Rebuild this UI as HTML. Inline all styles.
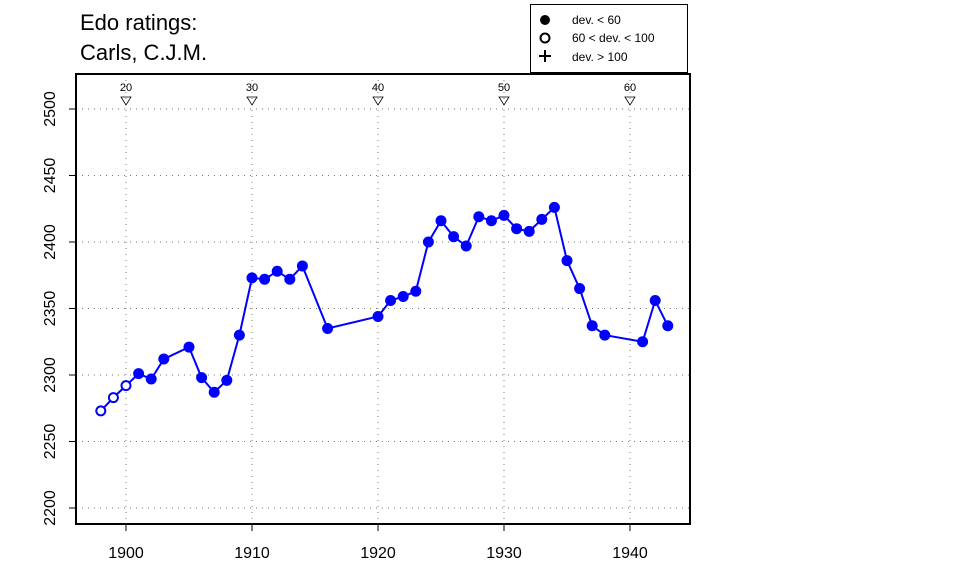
<!DOCTYPE html>
<html><head><meta charset="utf-8"><style>
body{margin:0;background:#fff;}
text{font-family:"Liberation Sans",sans-serif;}
</style></head><body>
<svg width="960" height="576" id="svg">
<text x="80" y="30" font-size="22">Edo ratings:</text>
<text x="80" y="60" font-size="22">Carls, C.J.M.</text>
<g>
<rect x="530.5" y="4.5" width="157" height="68" fill="none" stroke="#000"/>
<circle cx="545" cy="20" r="5" fill="#000"/>
<text x="572" y="24" font-size="12">dev. &lt; 60</text>
<circle cx="545" cy="38" r="4.5" fill="none" stroke="#000" stroke-width="2"/>
<text x="572" y="42" font-size="12">60 &lt; dev. &lt; 100</text>
<path d="M539 56h12M545 50v12" stroke="#000" stroke-width="2"/>
<text x="572" y="61" font-size="12">dev. &gt; 100</text>
</g>
<g id="grid"></g>
<g id="axes"></g>
<g id="series"></g>
<rect x="76" y="74" width="614" height="450" fill="none" stroke="#000" stroke-width="2"/>
</svg>
<script>
const years=[1898,1899,1900,1901,1902,1903,1905,1906,1907,1908,1909,1910,1911,1912,1913,1914,1916,1920,1921,1922,1923,1924,1925,1926,1927,1928,1929,1930,1931,1932,1933,1934,1935,1936,1937,1938,1941,1942,1943];
const ratings=[2273,2283,2292,2301,2297,2312,2321,2298,2287,2296,2330,2373,2372,2378,2372,2382,2335,2344,2356,2359,2363,2400,2416,2404,2397,2419,2416,2420,2410,2408,2417,2426,2386,2365,2337,2330,2325,2356,2337];
const openPts=[1,1,1,0,0,0,0,0,0,0,0,0,0,0,0,0,0,0,0,0,0,0,0,0,0,0,0,0,0,0,0,0,0,0,0,0,0,0,0];
const xTicks=[1900,1910,1920,1930,1940];
const yTicks=[2200,2250,2300,2350,2400,2450,2500];
const ageLabels=[20,30,40,50,60];
const X=v=>126+(v-1900)*12.6;
const Y=v=>375-(v-2300)*1.33;
const NS="http://www.w3.org/2000/svg";
function mk(t,a,p){const e=document.createElementNS(NS,t);for(const k in a)e.setAttribute(k,a[k]);p.appendChild(e);return e;}
const grid=document.getElementById('grid'),axes=document.getElementById('axes'),ser=document.getElementById('series');
xTicks.forEach((t,i)=>{
 const l=mk('line',{x1:X(t),x2:X(t),y1:74,y2:524,stroke:'#777','stroke-dasharray':'1 5'},grid);
 
 
 const tk=mk('line',{x1:X(t),x2:X(t),y1:524,y2:531,stroke:'#000'},axes);
 
 
 const tx=mk('text',{x:X(t),y:558,'font-size':16,'text-anchor':'middle'},axes);tx.textContent=t;
 
 
 const tr=mk('path',{d:`M${X(t)-5} 97h10l-5 8z`,fill:'none',stroke:'#000','stroke-width':0.8},axes);
 
 
 const al=mk('text',{x:X(t),y:91,'font-size':11,'text-anchor':'middle'},axes);al.textContent=ageLabels[i];
 
 
});
yTicks.forEach(t=>{
 const l=mk('line',{x1:76,x2:690,y1:Y(t),y2:Y(t),stroke:'#777','stroke-dasharray':'1 5'},grid);
 
 
 const tk=mk('line',{x1:69,x2:76,y1:Y(t),y2:Y(t),stroke:'#000'},axes);
 
 
 const tx=mk('text',{x:0,y:0,'font-size':16,'text-anchor':'middle',transform:`translate(55 ${Y(t)}) rotate(-90)`},axes);tx.textContent=t;
 
 
});
const pl=mk('polyline',{points:years.map((y,i)=>X(y)+','+Y(ratings[i])).join(' '),fill:'none',stroke:'#0000ff','stroke-width':2},ser);


years.forEach((y,i)=>{
 const c=openPts[i]?mk('circle',{cx:X(y),cy:Y(ratings[i]),r:4.5,fill:'#fff',stroke:'#0000ff','stroke-width':2},ser):mk('circle',{cx:X(y),cy:Y(ratings[i]),r:5.5,fill:'#0000ff'},ser);
 
 
});
</script>
</body></html>
